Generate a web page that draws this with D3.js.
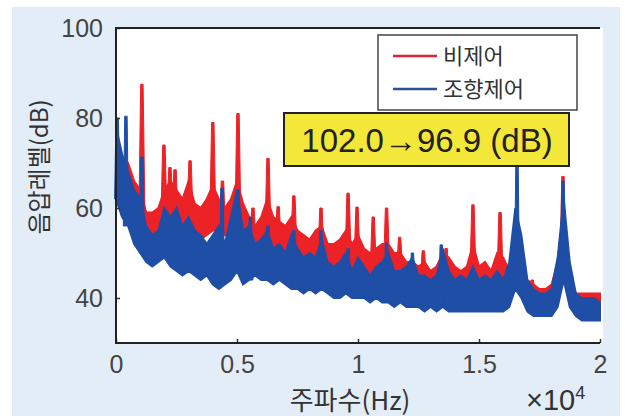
<!DOCTYPE html>
<html>
<head>
<meta charset="utf-8">
<script src="https://cdn.jsdelivr.net/npm/d3@7.9.0/dist/d3.min.js"></script>
<style>
  html, body { margin: 0; padding: 0; background: #fff; }
  svg { display: block; }
  .tick text { font-family: "Liberation Sans", Arial, sans-serif; font-size: 25px; fill: #444; }
  .kr { font-family: "Noto Sans CJK KR", "Noto Sans", sans-serif; fill: #333; }
</style>
</head>
<body>
<svg id="chart" width="626" height="420"></svg>
<script>
// frequency grid (x 10^4 Hz)
const freq = [0, 0.025, 0.05, 0.075, 0.1, 0.125, 0.15, 0.175, 0.2, 0.225, 0.25, 0.275, 0.3, 0.325, 0.35, 0.375,
  0.4, 0.425, 0.45, 0.475, 0.5, 0.525, 0.55, 0.575, 0.6, 0.625, 0.65, 0.675, 0.7, 0.725, 0.75, 0.775,
  0.8, 0.825, 0.85, 0.875, 0.9, 0.925, 0.95, 0.975, 1.0, 1.025, 1.05, 1.075, 1.1, 1.125, 1.15, 1.175,
  1.2, 1.225, 1.25, 1.275, 1.3, 1.325, 1.35, 1.375, 1.4, 1.425, 1.45, 1.475, 1.5, 1.525, 1.55, 1.575,
  1.6, 1.625, 1.65, 1.675, 1.7, 1.725, 1.75, 1.775, 1.8, 1.825, 1.85, 1.875, 1.9, 1.925, 1.95, 1.975, 2.0];

// 비제어 (uncontrolled) noise band, dB
const redHi = [70, 70, 70, 66, 64, 59, 59, 60, 64, 66, 64, 62, 66, 61, 60, 62,
  65, 62, 60, 62, 66, 61, 58, 56, 58, 62, 58, 57, 56, 58, 55, 54,
  53, 55, 56, 52, 52, 53, 55, 52, 54, 51, 50, 51, 52, 52, 50, 50,
  48, 48, 47, 48, 46, 47, 50, 49, 47, 46, 47, 52, 47, 48, 46, 50,
  49, 46, 50, 45, 44, 43, 42, 42, 43, 48, 60, 46, 41, 41, 41, 41, 41];
const redLo = [62, 62, 60, 58, 56, 54, 54, 55, 56, 57, 56, 55, 56, 54, 53, 54,
  55, 55, 54, 53, 54, 53, 52, 51, 50, 52, 51, 51, 50, 50, 48, 48,
  48, 47, 48, 46, 46, 46, 47, 46, 46, 45, 45, 45, 45, 45, 44, 44,
  44, 43, 43, 43, 42, 42, 43, 42, 42, 42, 42, 43, 42, 42, 42, 43,
  43, 41, 42, 41, 40, 40, 39, 39, 39, 40, 44, 40, 39, 39, 39, 39, 39];

// 조향제어 (steered control) noise band, dB
const blueHi = [78, 72, 68, 64, 62, 56, 54, 55, 60, 58, 60, 56, 58, 55, 54, 52,
  54, 56, 52, 58, 64, 55, 56, 52, 53, 55, 51, 52, 50, 54, 51, 49,
  50, 49, 53, 48, 47, 48, 50, 46, 49, 47, 45, 47, 48, 50, 46, 46,
  47, 49, 45, 45, 44, 45, 51, 46, 44, 45, 44, 47, 44, 45, 44, 46,
  44, 48, 60, 54, 44, 42, 41, 41, 42, 49, 62, 48, 41, 40, 40, 40, 39];
const blueLo = [62, 58, 56, 52, 50, 48, 47, 48, 49, 47, 46, 45, 46, 45, 44, 45,
  43, 42, 43, 44, 46, 43, 44, 45, 44, 44, 43, 44, 43, 42, 42, 41,
  42, 41, 42, 41, 40, 40, 41, 40, 40, 40, 39, 40, 39, 39, 38, 39,
  38, 38, 38, 37, 38, 37, 38, 37, 37, 37, 37, 37, 37, 37, 37, 37,
  37, 38, 42, 40, 37, 36, 36, 36, 36, 38, 44, 38, 36, 35, 35, 35, 35];

// narrow tonal peaks
const redPeakFreq = [0.107, 0.198, 0.223, 0.244, 0.306, 0.40, 0.44, 0.504, 0.566, 0.628, 0.67, 0.735,
  0.847, 0.959, 0.996, 1.063, 1.118, 1.172, 1.27, 1.364, 1.475, 1.587, 1.69, 1.72, 1.847];
const redPeakDb = [87.5, 74, 69, 68.5, 70.5, 79, 66, 81, 60, 71, 60.3, 62.7,
  60, 63.3, 60.2, 58, 60, 53.5, 50.5, 51, 60.7, 59, 45, 44, 67];
const bluePeakFreq = [0.005, 0.041, 0.107, 0.438, 0.504, 0.555, 0.628, 0.735, 0.847, 0.959, 1.118,
  1.225, 1.344, 1.657, 1.847];
const bluePeakDb = [80, 80.4, 71.3, 64.4, 64, 58, 56, 55, 55, 51, 52.2, 50, 51.8, 70, 66];

const xTicks = [0, 0.5, 1, 1.5, 2];
const yTicks = [40, 60, 80, 100];

const svg = d3.select('#chart');

// light blue panel behind everything
svg.append('rect').attr('x', 12).attr('y', 7).attr('width', 608).attr('height', 409).attr('fill', '#e3edf8');

const mLeft = 116, mRight = 600, mTop = 28, mBottom = 343;
const x = d3.scaleLinear().domain([0, 2]).range([mLeft, mRight]);
const y = d3.scaleLinear().domain([30, 100]).range([mBottom, mTop]);

svg.append('rect').attr('x', mLeft).attr('y', mTop).attr('width', 603 - mLeft).attr('height', mBottom - mTop).attr('fill', '#fff');

const plot = svg.append('g');

function drawSeries(lo, hi, peakF, peakD, color, spikeW) {
  const rows = freq.map((f, i) => ({ f, lo: lo[i], hi: hi[i] }));
  const area = d3.area().x(d => x(d.f)).y0(d => y(d.lo)).y1(d => y(d.hi));
  plot.append('path')
    .attr('d', area(rows))
    .attr('fill', color)
    .attr('stroke', color)
    .attr('stroke-width', 2);

  // spikes rise from the band at the nearest grid point
  const bis = d3.bisector(d => d).center;
  peakF.forEach((f, i) => {
    const base = lo[bis(freq, f)];
    const pts = [[x(f) - spikeW, y(base)], [x(f) - 1.2, y(peakD[i])], [x(f) + 1.2, y(peakD[i])], [x(f) + spikeW, y(base)]];
    plot.append('path')
      .attr('d', d3.line()(pts) + 'Z')
      .attr('fill', color)
      .attr('stroke', color)
      .attr('stroke-width', 1);
  });
}

drawSeries(redLo, redHi, redPeakFreq, redPeakDb, '#ec2227', 3.2);
drawSeries(blueLo, blueHi, bluePeakFreq, bluePeakDb, '#1f4ea6', 2.6);

// axes with inward ticks
const yAxis = svg.append('g')
  .attr('transform', `translate(${mLeft},0)`)
  .call(d3.axisLeft(y).tickValues(yTicks).tickSize(-4).tickPadding(13).tickFormat(d3.format('d')));
const xAxis = svg.append('g')
  .attr('transform', `translate(0,${mBottom})`)
  .call(d3.axisBottom(x).tickValues(xTicks).tickSize(-4).tickPadding(12).tickFormat(d3.format('~g')));
[yAxis, xAxis].forEach(a => {
  a.select('.domain').remove();
  a.selectAll('.tick line').attr('stroke', '#333').attr('stroke-width', 1.5);
});

// frame: left, top, bottom
svg.append('path')
  .attr('d', `M${mRight},${mTop}H${mLeft}V${mBottom}H${mRight}`)
  .attr('fill', 'none')
  .attr('stroke', '#222')
  .attr('stroke-width', 2);

// legend
const lg = svg.append('g');
lg.append('rect').attr('x', 378).attr('y', 35).attr('width', 199).attr('height', 75)
  .attr('fill', '#fff').attr('stroke', '#444').attr('stroke-width', 1.5);
const legendItems = [['비제어', '#d9253a', 56], ['조향제어', '#2d4f9e', 89]];
legendItems.forEach(([label, c, ly]) => {
  lg.append('line').attr('x1', 393).attr('x2', 437).attr('y1', ly).attr('y2', ly).attr('stroke', c).attr('stroke-width', 2.5);
  lg.append('text').attr('class', 'kr').attr('x', 443).attr('y', ly).attr('dy', '0.35em')
    .style('font-size', '22px').text(label);
});

// yellow annotation
svg.append('rect').attr('x', 284).attr('y', 113).attr('width', 285).attr('height', 53)
  .attr('fill', '#f3e83a').attr('stroke', '#222').attr('stroke-width', 2);
svg.append('text').attr('x', 427).attr('y', 140).attr('dy', '0.35em').attr('text-anchor', 'middle')
  .style('font-family', '"Liberation Sans", Arial, sans-serif').style('font-size', '33px').attr('fill', '#222')
  .text('102.0→96.9 (dB)');

// axis titles
svg.append('text').attr('class', 'kr').attr('text-anchor', 'middle')
  .attr('transform', 'translate(40,167) rotate(-90)').attr('dy', '0.35em')
  .style('font-size', '24px').text('음압레벨(dB)');
svg.append('text').attr('class', 'kr').attr('x', 350).attr('y', 401).attr('dy', '0.35em').attr('text-anchor', 'middle')
  .style('font-size', '26px').text('주파수(Hz)');
const exp = svg.append('text').attr('x', 526).attr('y', 400).attr('dy', '0.35em')
  .style('font-family', '"Liberation Sans", Arial, sans-serif').style('font-size', '29px').attr('fill', '#333');
exp.append('tspan').text('×10');
exp.append('tspan').attr('dy', '-0.6em').style('font-size', '18px').text('4');
</script>
</body>
</html>
